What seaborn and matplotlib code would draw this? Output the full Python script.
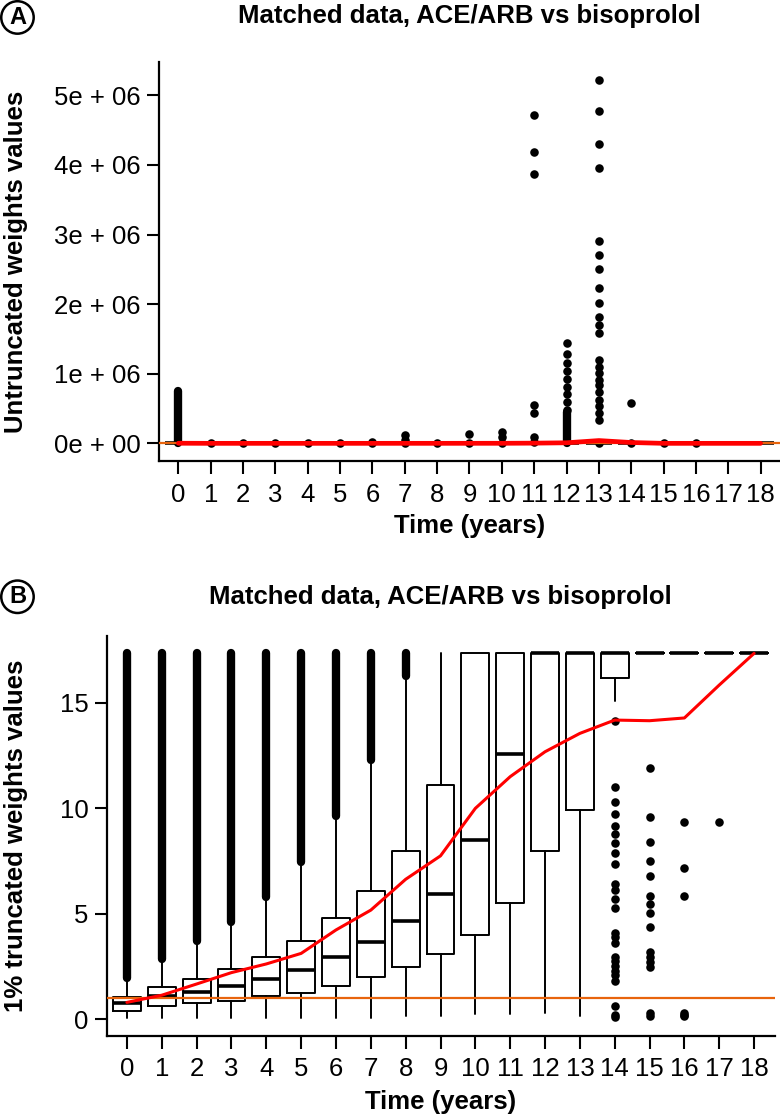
import matplotlib
matplotlib.use("Agg")
import matplotlib.pyplot as plt
import numpy as np
import seaborn as sns

# ── data ─────────────────────────────────────────────────────────────────────
YEARS = list(range(19))
CAP = 17.35  # 1% truncation ceiling

# panel B box statistics per year
Q1 = [0.40, 0.64, 0.77, 0.88, 1.11, 1.27, 1.59, 2.01, 2.50, 3.10, 4.00, 5.53,
      7.99, 9.92, 16.16, CAP, CAP, CAP, CAP]
MED = [0.77, 1.11, 1.29, 1.60, 1.92, 2.34, 2.96, 3.66, 4.65, 5.94, 8.50, 12.57,
       CAP, CAP, CAP, CAP, CAP, CAP, CAP]
Q3 = [1.08, 1.55, 1.93, 2.38, 2.96, 3.73, 4.79, 6.08, 7.99, 11.09, CAP, CAP,
      CAP, CAP, CAP, CAP, CAP, CAP, CAP]
WHISK_LO = [0.06, 0.06, 0.06, 0.06, 0.06, 0.06, 0.06, 0.06, 0.18, 0.18, 0.26,
            0.26, 0.29, 0.17, 15.10, CAP, CAP, CAP, CAP]
WHISK_HI = [1.85, 2.80, 3.60, 4.50, 5.70, 7.35, 9.50, 12.20, 16.20, CAP, CAP,
            CAP, CAP, CAP, CAP, CAP, CAP, CAP, CAP]

# dense outlier columns (years 0-8 run from here up to the cap)
BAND_YEARS_B = [0, 1, 2, 3, 4, 5, 6, 7, 8]
BAND_LO_B = [1.95, 2.88, 3.70, 4.60, 5.80, 7.45, 9.62, 12.27, 16.28]

# sparse outliers, panel B
FLIER_14 = [14.15, 11.02, 10.31, 9.71, 9.18, 8.78, 8.37, 7.90, 7.36, 6.42, 6.13,
            5.69, 5.26, 4.11, 3.89, 3.64, 2.97, 2.77, 2.55, 2.31, 2.09, 1.82,
            0.64, 0.21, 0.13]
FLIER_15 = [11.89, 9.57, 8.42, 7.52, 6.79, 5.85, 5.47, 5.06, 4.40, 3.21, 2.97,
            2.74, 2.50, 0.29, 0.17]
FLIER_16 = [9.37, 7.16, 5.86, 0.30, 0.22, 0.15]
FLIER_17 = [9.37]

# red mean line, panel B
MEAN_B = [0.81, 1.15, 1.68, 2.22, 2.63, 3.13, 4.24, 5.18, 6.64, 7.75, 10.0,
          11.5, 12.68, 13.55, 14.18, 14.15, 14.28, 15.84, 17.34]

# panel A (untruncated), values in units of 1e6
BAND_YEARS_A = [0, 12]
BAND_LO_A = [0.0, 0.0]
BAND_HI_A = [0.75, 0.45]
FLIER_A = {
    1: [0.0], 2: [0.0], 3: [0.0], 4: [0.0], 5: [0.0], 6: [0.0, 0.02],
    7: [0.12, 0.05, 0.0], 8: [0.01], 9: [0.13, 0.0], 10: [0.17, 0.09, 0.0],
    11: [4.71, 4.18, 3.87, 0.55, 0.44, 0.09, 0.02],
    12: [1.44, 1.29, 1.16, 1.04, 0.92, 0.81, 0.71, 0.60, 0.48],
    13: [5.22, 4.78, 4.30, 3.95, 2.90, 2.71, 2.50, 2.23, 2.01, 1.82, 1.70, 1.58,
         1.20, 1.10, 1.01, 0.91, 0.84, 0.74, 0.62, 0.53, 0.43, 0.33, 0.0],
    14: [0.575, 0.0], 15: [0.0], 16: [0.0],
}
MEAN_A = [0.0015, 0.0, 0.0, 0.0, 0.0, 0.0, 0.0001, 0.0003, 0.0002, 0.0005,
          0.0008, 0.003, 0.008, 0.04, 0.012, 0.0, 0.0, 0.0, 0.0]

YTICKS_A = [0, 1e6, 2e6, 3e6, 4e6, 5e6]
YTICK_LABELS_A = ["0e + 00", "1e + 06", "2e + 06", "3e + 06", "4e + 06", "5e + 06"]
YTICKS_B = [0, 5, 10, 15]

TITLE = "Matched data, ACE/ARB vs bisoprolol"
XLABEL = "Time (years)"
YLABEL_A = "Untruncated weights values"
YLABEL_B = "1% truncated weights values"

# ── style ────────────────────────────────────────────────────────────────────
sns.set_theme(style="ticks")
plt.rcParams["font.family"] = ["Liberation Sans", "DejaVu Sans"]
plt.rcParams.update({
    "text.color": "black", "axes.labelcolor": "black",
    "xtick.color": "black", "ytick.color": "black",
    "xtick.labelcolor": "black", "ytick.labelcolor": "black",
})
FS = 18.5
RED = "#FF0000"
ORANGE = "#E8640C"


def box_stats(scale=1.0):
    return [
        dict(q1=a * scale, med=m * scale, q3=b * scale,
             whislo=lo * scale, whishi=hi * scale, fliers=[])
        for a, m, b, lo, hi in zip(Q1, MED, Q3, WHISK_LO, WHISK_HI)
    ]


def style_axes(ax):
    for side in ("top", "right"):
        ax.spines[side].set_visible(False)
    for side in ("left", "bottom"):
        ax.spines[side].set_linewidth(1.6)
        ax.spines[side].set_color("black")
    ax.tick_params(axis="both", length=9, width=1.5, color="black",
                   labelcolor="black", labelsize=FS, direction="out")
    ax.tick_params(axis="x", pad=6.5)
    ax.tick_params(axis="y", pad=4)
    ax.set_xticks(YEARS)
    ax.set_xticklabels([str(y) for y in YEARS])
    ax.set_facecolor("white")
    ax.grid(False)


def draw_boxes(ax, scale=1.0):
    ax.bxp(box_stats(scale), positions=YEARS, widths=0.8, showfliers=False,
           showcaps=False, manage_ticks=False,
           boxprops=dict(color="black", linewidth=1.4),
           whiskerprops=dict(color="black", linewidth=1.4),
           medianprops=dict(color="black", linewidth=2.6, solid_capstyle="butt"))


fig = plt.figure(figsize=(7.8, 11.19), dpi=100)
fig.patch.set_facecolor("white")

# ── A: untruncated weights ───────────────────────────────────────────────────
axA = fig.add_axes([0.2038, 0.588, 0.7962, 0.3569])
draw_boxes(axA, scale=1.0)
axA.vlines(BAND_YEARS_A, [v * 1e6 for v in BAND_LO_A], [v * 1e6 for v in BAND_HI_A],
           color="black", linewidth=6, capstyle="round", zorder=3)
fx = [yr for yr, vals in FLIER_A.items() for _ in vals]
fy = [v * 1e6 for vals in FLIER_A.values() for v in vals]
sns.scatterplot(x=fx, y=fy, ax=axA, color="black", s=38, linewidth=0, zorder=3)
axA.axhline(0, color=ORANGE, linewidth=1.6, zorder=4)
sns.lineplot(x=YEARS, y=[v * 1e6 for v in MEAN_A], ax=axA, color=RED,
             linewidth=3.4, zorder=5)
axA.set_xlim(-0.6, 18.6)
axA.set_ylim(-0.254e6, 5.483e6)
axA.set_yticks(YTICKS_A)
axA.set_yticklabels(YTICK_LABELS_A)
style_axes(axA)

# ── B: 1% truncated weights ──────────────────────────────────────────────────
axB = fig.add_axes([0.1368, 0.0744, 0.8568, 0.3572])
draw_boxes(axB)
axB.vlines(BAND_YEARS_B, BAND_LO_B, [CAP] * len(BAND_LO_B),
           color="black", linewidth=6, capstyle="round", zorder=3)
bx, by = [], []
for yr, vals in ((14, FLIER_14), (15, FLIER_15), (16, FLIER_16), (17, FLIER_17)):
    bx += [yr] * len(vals)
    by += vals
sns.scatterplot(x=bx, y=by, ax=axB, color="black", s=38, linewidth=0, zorder=3)
axB.axhline(1, color=ORANGE, linewidth=1.6, zorder=4)
sns.lineplot(x=YEARS, y=MEAN_B, ax=axB, color=RED, linewidth=2.2, zorder=5)
axB.set_xlim(-0.58, 18.6)
axB.set_ylim(-0.77, 18.16)
axB.set_yticks(YTICKS_B)
axB.set_yticklabels([str(t) for t in YTICKS_B])
style_axes(axB)

# ── text ─────────────────────────────────────────────────────────────────────
for ax, ty, xl_y, yl_y, letter, ly in (
    (axA, 0.9857, 0.530, 0.7664, "A", 0.9844),
    (axB, 0.4667, 0.0152, 0.2530, "B", 0.4667),
):
    pos = ax.get_position()
    cx = (pos.x0 + pos.x1) / 2
    fig.text(cx, ty, TITLE, ha="center", va="center", fontsize=FS,
             fontweight="bold", color="black")
    fig.text(cx, xl_y, XLABEL, ha="center", va="center", fontsize=FS,
             fontweight="bold", color="black")
    fig.text(0.0205, yl_y, YLABEL_A if letter == "A" else YLABEL_B,
             ha="center", va="center", rotation=90, fontsize=FS,
             fontweight="bold", color="black")
    fig.text(0.0224, ly, letter, ha="center", va="center", fontsize=17,
             fontweight="bold", color="black",
             bbox=dict(boxstyle="circle,pad=0.2", fc="white", ec="black",
                       lw=1.8))

fig.savefig("out.png", dpi=100, facecolor="white")
plt.close(fig)
